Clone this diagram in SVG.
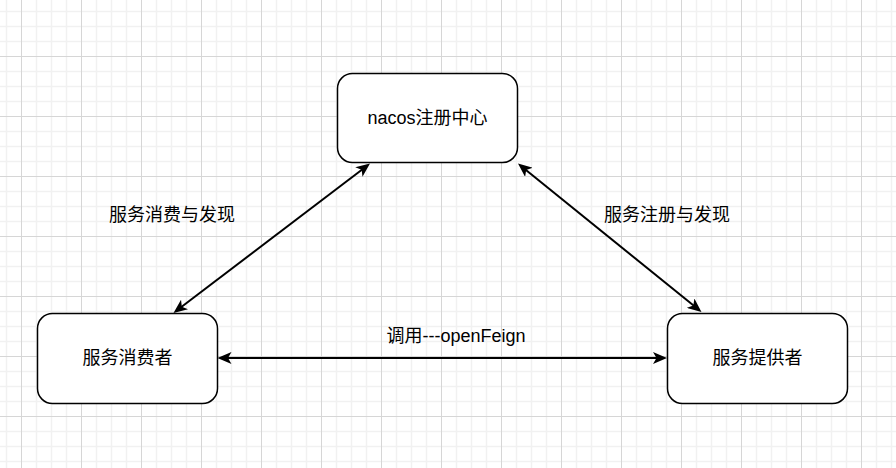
<svg xmlns="http://www.w3.org/2000/svg" width="896" height="468" viewBox="0 0 896 468">
  <style>
    .box { fill: #ffffff; stroke: #000000; stroke-width: 1.5; }
    .lbl { font-family: "Liberation Sans", "Noto Sans CJK SC", sans-serif; font-size: 18px; fill: #000000; text-anchor: middle; }
    .edge { stroke: #000000; stroke-width: 2; fill: none; }
  </style>
  <defs>
    <pattern id="grid" patternUnits="userSpaceOnUse" x="21" y="56" width="60" height="60">
      <path d="M15.5,0V60M30.5,0V60M45.5,0V60M0,15.5H60M0,30.5H60M0,45.5H60" stroke="#f1f1f1" stroke-width="1.5" fill="none"/>
      <path d="M0.5,0V60M0,0.5H60" stroke="#d6d6d6" stroke-width="1" fill="none"/>
    </pattern>
    <marker id="arr" markerUnits="userSpaceOnUse" viewBox="0 0 14 12" markerWidth="14" markerHeight="12" refX="5" refY="6" orient="auto-start-reverse">
      <path d="M0,0 L14,6 L0,12 L3.5,6 Z" fill="#000000"/>
    </marker>
  </defs>
  <rect width="896" height="468" fill="#ffffff"/>
  <rect width="896" height="468" fill="url(#grid)"/>

  <g id="connectors">
    <line class="edge" x1="362.84" y1="168.95" x2="180.66" y2="307.55" marker-start="url(#arr)" marker-end="url(#arr)"/>
    <line class="edge" x1="525.0" y1="169.16" x2="694.5" y2="306.34" marker-start="url(#arr)" marker-end="url(#arr)"/>
    <line class="edge" x1="226.5" y1="358" x2="658" y2="358" marker-start="url(#arr)" marker-end="url(#arr)"/>
    <text class="lbl" x="172" y="221">服务消费与发现</text>
    <text class="lbl" x="667" y="221">服务注册与发现</text>
    <text class="lbl" x="456" y="341.5">调用---openFeign</text>
  </g>

  <g id="nacos">
    <rect class="box" x="337.5" y="73.5" width="180" height="89" rx="15" ry="15"/>
    <text class="lbl" x="427.5" y="124">nacos注册中心</text>
  </g>
  <g id="consumer">
    <rect class="box" x="37.5" y="313.5" width="180" height="90" rx="15" ry="15"/>
    <text class="lbl" x="127.5" y="364">服务消费者</text>
  </g>
  <g id="provider">
    <rect class="box" x="667.5" y="313.5" width="180" height="90" rx="15" ry="15"/>
    <text class="lbl" x="757.5" y="364">服务提供者</text>
  </g>
</svg>
